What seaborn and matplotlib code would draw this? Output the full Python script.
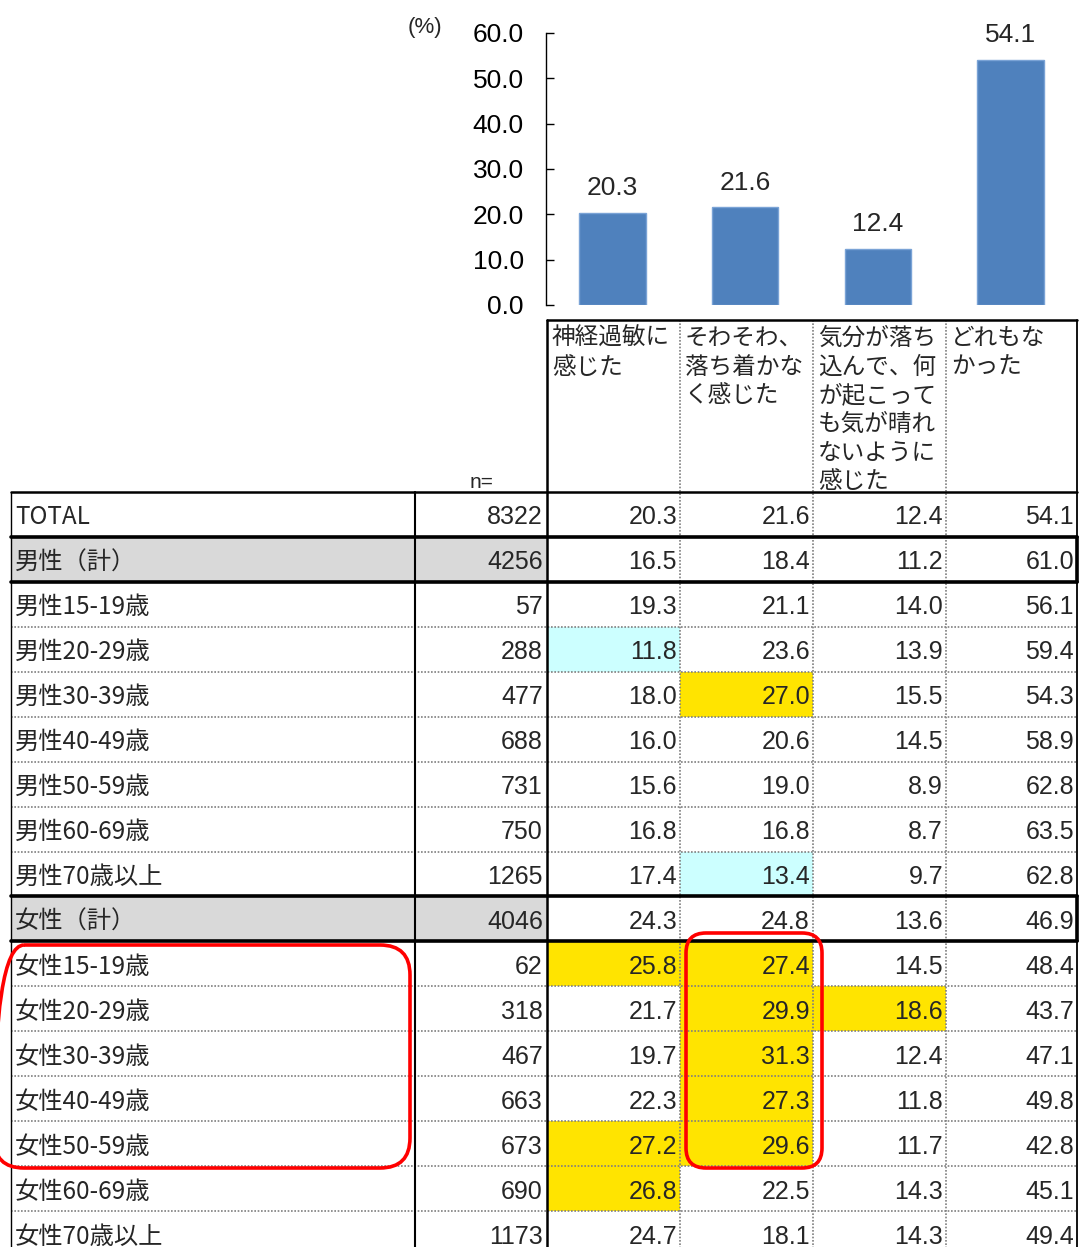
import matplotlib
matplotlib.use('Agg')
import matplotlib.pyplot as plt
import seaborn as sns
import pandas as pd
from matplotlib import font_manager
from matplotlib.patches import Rectangle, FancyBboxPatch

# ---------------- data ----------------
categories = ["神経過敏に\n感じた",
              "そわそわ、\n落ち着かな\nく感じた",
              "気分が落ち\n込んで、何\nが起こって\nも気が晴れ\nないように\n感じた",
              "どれもな\nかった"]
total_pct = [20.3, 21.6, 12.4, 54.1]
y_ticks = [0, 10, 20, 30, 40, 50, 60]

row_labels = ["TOTAL", "男性（計）", "男性15-19歳", "男性20-29歳", "男性30-39歳",
              "男性40-49歳", "男性50-59歳", "男性60-69歳", "男性70歳以上",
              "女性（計）", "女性15-19歳", "女性20-29歳", "女性30-39歳",
              "女性40-49歳", "女性50-59歳", "女性60-69歳", "女性70歳以上"]
n_values = [8322, 4256, 57, 288, 477, 688, 731, 750, 1265,
            4046, 62, 318, 467, 663, 673, 690, 1173]
col_nervous = [20.3, 16.5, 19.3, 11.8, 18.0, 16.0, 15.6, 16.8, 17.4,
               24.3, 25.8, 21.7, 19.7, 22.3, 27.2, 26.8, 24.7]
col_restless = [21.6, 18.4, 21.1, 23.6, 27.0, 20.6, 19.0, 16.8, 13.4,
                24.8, 27.4, 29.9, 31.3, 27.3, 29.6, 22.5, 18.1]
col_depressed = [12.4, 11.2, 14.0, 13.9, 15.5, 14.5, 8.9, 8.7, 9.7,
                 13.6, 14.5, 18.6, 12.4, 11.8, 11.7, 14.3, 14.3]
col_none = [54.1, 61.0, 56.1, 59.4, 54.3, 58.9, 62.8, 63.5, 62.8,
            46.9, 48.4, 43.7, 47.1, 49.8, 42.8, 45.1, 49.4]
subtotal_rows = [1, 9]
# (row, column, kind)  high = notably higher, low = notably lower
highlights = [(3, 0, "low"), (4, 1, "high"), (8, 1, "low"),
              (10, 0, "high"), (10, 1, "high"), (11, 1, "high"), (11, 2, "high"),
              (12, 1, "high"), (13, 1, "high"), (14, 0, "high"), (14, 1, "high"),
              (15, 0, "high")]

# ---------------- fonts ----------------
def has_font(name):
    try:
        font_manager.findfont(font_manager.FontProperties(family=name),
                              fallback_to_default=False)
        return True
    except Exception:
        return False

NUM = 'Liberation Sans Narrow' if has_font('Liberation Sans Narrow') else 'Liberation Sans'
JP = ['Noto Sans CJK JP', 'DejaVu Sans']
sns.set_style("white")
plt.rcParams['font.family'] = JP

W, H = 1079, 1247
fig = plt.figure(figsize=(W / 100, H / 100), dpi=100)

# ---------------- table (pixel coordinates) ----------------
tx = fig.add_axes([0, 0, 1, 1])
tx.set_xlim(0, W)
tx.set_ylim(H, 0)
tx.axis('off')

col_edges = [11, 415, 547, 680, 813, 946, 1077]
top0 = 492
rh = 44.94
nrows = len(row_labels)
values = [col_nervous, col_restless, col_depressed, col_none]
fill = {"high": "#FFE400", "low": "#CCFFFF"}

for r in subtotal_rows:
    tx.add_patch(Rectangle((col_edges[0], top0 + r * rh), col_edges[2] - col_edges[0], rh,
                           facecolor="#D9D9D9", edgecolor="none", zorder=1))
for r, c, k in highlights:
    tx.add_patch(Rectangle((col_edges[2 + c], top0 + r * rh), col_edges[3 + c] - col_edges[2 + c], rh,
                           facecolor=fill[k], edgecolor="none", zorder=1))

dot = dict(color="#7f7f7f", lw=1.2, linestyle=(0, (1, 1)), zorder=2)
# horizontal lines
tx.plot([col_edges[2], col_edges[-1]], [320, 320], color="black", lw=1.8, zorder=3)
tx.plot([col_edges[0], col_edges[-1]], [top0, top0], color="black", lw=1.8, zorder=3)
thick_b = set()
for r in subtotal_rows:
    thick_b.update([r, r + 1])
for i in range(1, nrows + 1):
    y = top0 + i * rh
    if i in thick_b:
        tx.plot([col_edges[0], col_edges[-1]], [y, y], color="black", lw=2.6, zorder=3)
    else:
        tx.plot([col_edges[0], col_edges[-1]], [y, y], **dot)
# vertical lines
tx.plot([col_edges[0], col_edges[0]], [top0, H], color="black", lw=1.0, zorder=3)
tx.plot([col_edges[1], col_edges[1]], [top0, H], color="black", lw=1.5, zorder=3)
tx.plot([col_edges[2], col_edges[2]], [320, H], color="black", lw=1.8, zorder=3)
for x in col_edges[3:6]:
    tx.plot([x, x], [320, H], **dot)
tx.plot([col_edges[-1], col_edges[-1]], [320, H], color="black", lw=1.3, zorder=3)
for r in subtotal_rows:
    tx.plot([col_edges[-1], col_edges[-1]], [top0 + r * rh, top0 + (r + 1) * rh],
            color="black", lw=2.6, zorder=3)

# header text
for c, cat in enumerate(categories):
    for j, line in enumerate(cat.split("\n")):
        tx.text(col_edges[2 + c] + 5, 345 + j * 28.7, line, fontsize=17,
                family=JP, ha="left", va="baseline", zorder=4)
tx.text(470, 488, "n=", fontsize=15, family=NUM, ha="left", va="baseline", zorder=4)
tx.text(425, 27, "(%)", fontsize=16, family=NUM, ha="center", va="center", zorder=4)

# body text
for i in range(nrows):
    base = top0 + i * rh + 32.5
    tx.text(col_edges[0] + 4, base, row_labels[i], fontsize=17.5, family=JP,
            ha="left", va="baseline", zorder=4)
    tx.text(col_edges[2] - 4, base, f"{n_values[i]}", fontsize=18, family=NUM,
            ha="right", va="baseline", zorder=4)
    for c in range(4):
        tx.text(col_edges[3 + c] - 3, base, f"{values[c][i]:.1f}", fontsize=18,
                family=NUM, ha="right", va="baseline", zorder=4)

# red rounded frames
tx.add_patch(FancyBboxPatch((-6, 945), 416, 223, boxstyle="round,pad=0,rounding_size=30",
                            facecolor="none", edgecolor="#FF0000", lw=2.6, zorder=5,
                            clip_on=False))
tx.add_patch(FancyBboxPatch((686, 933), 136, 235, boxstyle="round,pad=0,rounding_size=20",
                            facecolor="none", edgecolor="#FF0000", lw=2.6, zorder=5))

# ---------------- bar chart ----------------
ax = fig.add_axes([546 / W, 1 - 305 / H, (1077 - 546) / W, 272 / H])
df = pd.DataFrame({"cat": categories, "pct": total_pct})
sns.barplot(data=df, x="cat", y="pct", color="#4F81BD", saturation=1, width=0.5,
            edgecolor="#7aa3d6", linewidth=1, ax=ax)
ax.set_xlim(-0.5, 3.5)
ax.set_ylim(0, 60)
ax.set_yticks(y_ticks)
ax.set_yticklabels([f"{v:.1f}" for v in y_ticks], fontfamily=NUM, fontsize=19)
ax.tick_params(axis="y", direction="in", length=6, width=1, pad=16, colors="black", left=True)
ax.set_xticks([])
ax.set_xlabel("")
ax.set_ylabel("")
for s in ["top", "right", "bottom"]:
    ax.spines[s].set_visible(False)
ax.spines["left"].set_linewidth(1)
ax.spines["left"].set_color("black")
ax.patch.set_alpha(0)
ax.bar_label(ax.containers[0], labels=[f"{v:.1f}" for v in total_pct], padding=9,
             fontfamily=NUM, fontsize=19)

fig.savefig("out.png", dpi=100)
